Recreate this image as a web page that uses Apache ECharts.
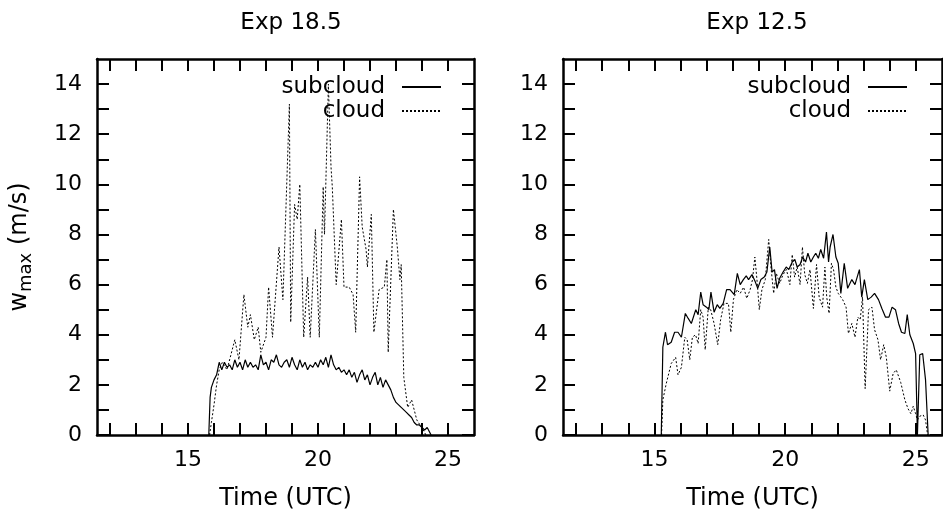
<!DOCTYPE html>
<html><head><meta charset="utf-8">
<script src="https://cdn.jsdelivr.net/npm/echarts@6/dist/echarts.min.js"></script>
<style>html,body{margin:0;padding:0;background:#fff}#c{width:943px;height:516px}</style>
</head><body><div id="c"></div>
<script>
const panelTitles = ['Exp 18.5', 'Exp 12.5'];
const seriesNames = ['subcloud', 'cloud'];
const xTickValues = [12,13,14,15,16,17,18,19,20,21,22,23,24,25];
const xLabelValues = [15,20,25];
const yTickValues = [0,1,2,3,4,5,6,7,8,9,10,11,12,13,14];
const yLabelValues = [0,2,4,6,8,10,12,14];

// Exp 18.5  [time (UTC), w_max (m/s)]
const leftSubcloud = [
[15.80,0],[15.85,1.5],[15.90,1.9],[16.0,2.2],[16.1,2.4],[16.2,2.9],[16.3,2.6],[16.4,2.9],[16.5,2.7],[16.6,2.8],
[16.7,2.6],[16.8,3.0],[16.9,2.7],[17.0,2.9],[17.1,2.6],[17.2,3.0],[17.3,2.7],[17.4,2.9],[17.5,2.7],[17.6,2.8],
[17.7,2.6],[17.8,3.2],[17.9,2.8],[18.0,2.9],[18.1,2.6],[18.2,3.0],[18.3,2.9],[18.4,3.2],[18.5,2.8],[18.6,2.7],
[18.7,2.9],[18.8,3.0],[18.9,2.7],[19.0,3.1],[19.1,2.8],[19.2,2.6],[19.3,3.0],[19.4,2.7],[19.5,2.9],[19.6,2.6],
[19.7,2.8],[19.8,2.7],[19.9,2.9],[20.0,2.7],[20.1,3.0],[20.2,2.8],[20.3,3.1],[20.4,2.7],[20.5,3.2],[20.6,2.8],
[20.7,2.6],[20.8,2.7],[20.9,2.5],[21.0,2.6],[21.1,2.4],[21.2,2.6],[21.3,2.3],[21.4,2.5],[21.5,2.1],[21.6,2.4],
[21.7,2.6],[21.8,2.2],[21.9,2.4],[22.0,2.0],[22.1,2.3],[22.2,2.5],[22.3,2.0],[22.4,2.3],[22.5,1.9],[22.6,2.2],
[22.7,2.0],[22.8,1.8],[22.9,1.5],[23.0,1.3],[23.1,1.2],[23.2,1.1],[23.3,1.0],[23.4,0.9],[23.5,0.8],[23.6,0.7],
[23.7,0.5],[23.8,0.4],[23.9,0.4],[24.0,0.3],[24.1,0.2],[24.2,0.3],[24.3,0.1],[24.35,0]
];
const leftCloud = [
[15.83,0],[15.9,0.5],[16.0,1.2],[16.1,2.0],[16.2,2.6],[16.32,2.9],[16.5,2.6],[16.8,3.8],[16.96,3.0],[17.15,5.6],
[17.3,4.3],[17.4,4.8],[17.55,3.8],[17.7,4.3],[17.8,3.3],[18.0,3.9],[18.1,5.9],[18.25,3.9],[18.5,7.5],[18.65,5.4],
[18.9,13.2],[18.95,4.5],[19.1,9.2],[19.2,8.6],[19.3,10.0],[19.45,3.9],[19.6,6.3],[19.7,3.9],[19.9,8.2],[20.05,3.9],
[20.2,9.9],[20.25,8.0],[20.4,14.0],[20.5,10.7],[20.55,9.9],[20.7,6.0],[20.9,8.6],[21.0,5.9],[21.2,5.9],[21.35,5.6],
[21.45,4.1],[21.6,10.3],[21.7,8.3],[21.85,7.4],[21.9,6.7],[22.05,8.8],[22.15,4.1],[22.35,5.8],[22.55,5.9],[22.65,7.0],
[22.7,3.3],[22.9,9.0],[23.05,7.5],[23.15,6.2],[23.2,6.8],[23.3,2.3],[23.45,1.1],[23.6,1.4],[23.8,0.6],[24.05,0.2],
[24.15,0]
];

// Exp 12.5  [time (UTC), w_max (m/s)]
const rightSubcloud = [
[15.26,0],[15.32,3.5],[15.42,4.1],[15.5,3.6],[15.64,3.7],[15.77,4.1],[15.9,4.1],[16.03,3.9],[16.18,4.85],[16.29,4.65],
[16.41,4.45],[16.58,5.0],[16.67,4.8],[16.77,5.7],[16.86,5.2],[16.99,5.1],[17.08,5.0],[17.16,5.7],[17.28,4.9],[17.4,5.2],
[17.5,5.05],[17.63,5.25],[17.76,5.8],[17.89,5.8],[18.05,5.6],[18.17,6.45],[18.28,6.0],[18.4,6.2],[18.51,6.35],[18.6,6.2],
[18.73,6.4],[18.86,6.1],[18.95,5.85],[19.07,6.2],[19.2,6.3],[19.3,6.5],[19.41,7.5],[19.5,6.5],[19.59,6.6],[19.69,5.85],
[19.79,6.25],[19.92,6.5],[20.04,6.7],[20.14,6.6],[20.27,6.9],[20.37,7.0],[20.46,6.7],[20.57,6.8],[20.67,7.1],[20.78,6.9],
[20.87,7.25],[20.98,6.9],[21.08,7.1],[21.17,7.25],[21.27,7.05],[21.36,7.4],[21.47,7.05],[21.58,8.1],[21.66,6.9],[21.72,7.5],
[21.83,8.0],[21.94,7.1],[22.03,6.85],[22.13,5.65],[22.26,6.85],[22.39,5.85],[22.55,6.2],[22.67,6.0],[22.84,6.6],[22.93,5.5],
[23.03,6.2],[23.16,5.4],[23.29,5.5],[23.42,5.65],[23.57,5.4],[23.7,5.05],[23.84,4.7],[23.97,4.7],[24.09,5.1],[24.22,5.0],
[24.34,4.45],[24.45,4.1],[24.58,4.05],[24.67,4.8],[24.77,4.0],[24.9,3.65],[24.99,3.25],[25.06,0],[25.15,3.2],[25.26,3.25],
[25.37,2.2],[25.47,0]
];
const rightCloud = [
[15.27,0],[15.32,1.4],[15.45,2.05],[15.64,2.85],[15.81,3.1],[15.9,2.4],[16.03,2.7],[16.16,3.9],[16.25,3.8],[16.35,3.0],
[16.45,3.9],[16.57,4.0],[16.67,3.65],[16.77,5.0],[16.86,4.7],[16.94,3.4],[17.06,5.1],[17.15,5.0],[17.28,4.45],[17.42,3.6],
[17.53,4.6],[17.66,5.25],[17.83,5.25],[17.92,4.1],[18.02,5.4],[18.15,5.8],[18.28,5.65],[18.41,5.9],[18.53,5.45],[18.66,5.8],
[18.75,6.2],[18.84,7.1],[18.92,6.2],[19.01,5.0],[19.11,5.8],[19.24,6.2],[19.37,7.8],[19.46,6.65],[19.56,5.65],[19.66,6.45],
[19.79,6.05],[19.92,6.4],[20.05,6.6],[20.18,6.0],[20.27,7.2],[20.36,6.3],[20.46,6.7],[20.57,6.0],[20.66,7.5],[20.75,6.4],
[20.85,6.05],[20.95,6.6],[21.08,5.05],[21.2,6.8],[21.3,5.5],[21.43,5.1],[21.52,6.7],[21.59,5.5],[21.68,4.85],[21.77,6.85],
[21.85,6.6],[21.94,5.9],[22.03,5.65],[22.2,5.4],[22.33,5.1],[22.42,4.05],[22.55,4.45],[22.67,3.9],[22.78,4.7],[22.87,4.6],
[22.96,5.5],[23.06,1.85],[23.19,5.0],[23.32,5.1],[23.42,4.2],[23.55,3.8],[23.65,3.0],[23.77,3.6],[23.87,3.1],[24.0,1.75],
[24.13,2.45],[24.25,2.6],[24.42,2.1],[24.58,1.4],[24.7,1.05],[24.81,0.85],[24.9,1.15],[24.99,0.85],[25.06,0.6],[25.15,0.75],
[25.28,0.8],[25.37,0.6],[25.45,0]
];

const FONT = 'DejaVu Sans';
const FS = 22;
const TFS = 23;
const NFS = 24;
const grids = [
  {left: 97, top: 59, width: 377, height: 376},
  {left: 563, top: 59, width: 379, height: 376}
];

function xAx(g, pos, labels) {
  return {
    type: 'value', gridIndex: g, position: pos, min: 11.5, max: 26,
    axisLine: {show: true, onZero: false, lineStyle: {color: '#000', width: 2.5}},
    axisTick: {show: true, inside: true, length: 12, customValues: xTickValues, lineStyle: {color: '#000', width: 2}},
    axisLabel: {show: labels, customValues: xLabelValues, margin: 14, color: '#000', fontFamily: FONT, fontSize: FS},
    splitLine: {show: false},
    name: labels ? 'Time (UTC)' : '', nameLocation: 'middle', nameGap: 52,
    nameTextStyle: {color: '#000', fontFamily: FONT, fontSize: NFS}
  };
}
function yAx(g, pos, labels, withName) {
  return {
    type: 'value', gridIndex: g, position: pos, min: 0, max: 15, interval: 1,
    axisLine: {show: true, onZero: false, lineStyle: {color: '#000', width: 2.5}},
    axisTick: {show: true, inside: true, length: 12, customValues: yTickValues, lineStyle: {color: '#000', width: 2}},
    axisLabel: {show: labels, customValues: yLabelValues, margin: 15, color: '#000', fontFamily: FONT, fontSize: FS},
    splitLine: {show: false},
    name: withName ? '{n|w}{s|max}{n| (m/s)}' : '', nameLocation: 'middle', nameGap: 62, nameRotate: 90,
    nameTextStyle: {
      color: '#000', fontFamily: FONT, fontSize: NFS,
      rich: {
        n: {fontFamily: FONT, fontSize: NFS, color: '#000'},
        s: {fontFamily: FONT, fontSize: 18, color: '#000', padding: [13, 0, 0, 0]}
      }
    }
  };
}
function mkSeries(name, data, xi, yi, dotted) {
  return {
    type: 'line', name: name, xAxisIndex: xi, yAxisIndex: yi, data: data,
    symbol: 'none', showSymbol: false, animation: false,
    lineStyle: {color: '#000', width: dotted ? 1 : 1.2, type: dotted ? [2, 2] : 'solid'},
    itemStyle: {color: '#000'}
  };
}
function mkLegend(name, right, top) {
  return {
    data: [name], right: right, top: top, orient: 'vertical', align: 'right',
    padding: 0, itemWidth: 39, itemHeight: 24, selectedMode: false,
    itemStyle: {opacity: 0, color: 'transparent', borderWidth: 0},
    textStyle: {color: '#000', fontFamily: FONT, fontSize: TFS, lineHeight: 24, padding: [0, 12, 0, 0]}
  };
}

const chart = echarts.init(document.getElementById('c'));
chart.setOption({
  backgroundColor: '#fff',
  animation: false,
  title: [
    {text: panelTitles[0], left: 286, top: 7, textAlign: 'center', textStyle: {color: '#000', fontFamily: FONT, fontSize: TFS, fontWeight: 'normal'}},
    {text: panelTitles[1], left: 752, top: 7, textAlign: 'center', textStyle: {color: '#000', fontFamily: FONT, fontSize: TFS, fontWeight: 'normal'}}
  ],
  grid: grids,
  xAxis: [xAx(0, 'bottom', true), xAx(0, 'top', false), xAx(1, 'bottom', true), xAx(1, 'top', false)],
  yAxis: [yAx(0, 'left', true, true), yAx(0, 'right', false, false), yAx(1, 'left', true, false), yAx(1, 'right', false, false)],
  legend: [
    mkLegend(seriesNames[0], 501, 75), mkLegend(seriesNames[1], 501, 99),
    mkLegend(seriesNames[0], 35, 75), mkLegend(seriesNames[1], 35, 99)
  ],
  series: [
    mkSeries(seriesNames[0], leftSubcloud, 0, 0, false),
    mkSeries(seriesNames[1], leftCloud, 0, 0, true),
    mkSeries(seriesNames[0], rightSubcloud, 2, 2, false),
    mkSeries(seriesNames[1], rightCloud, 2, 2, true)
  ]
});
</script></body></html>
